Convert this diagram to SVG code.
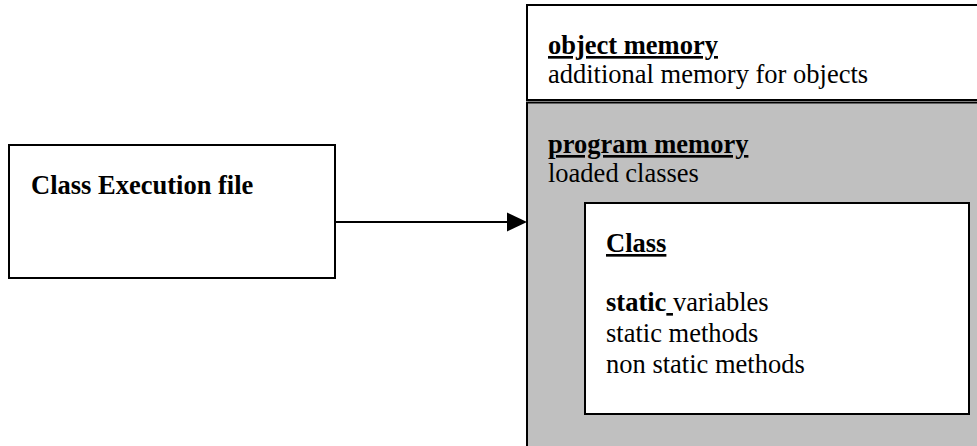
<svg xmlns="http://www.w3.org/2000/svg" width="977" height="446" viewBox="0 0 977 446">
<style>
text{font-family:"Liberation Serif","Times New Roman",serif;font-size:26.5px;fill:#000;white-space:pre}
.b{font-weight:bold}
.u{text-decoration:underline}
.box{stroke:#000;stroke-width:2}
.conn{stroke:#000;stroke-width:2;fill:none}
</style>
<rect width="977" height="446" fill="#fff"/>
<g id="program-memory">
<rect class="box" x="527" y="102.5" width="470" height="360" fill="#c0c0c0"/>
<text x="548" y="153"><tspan class="b u">program memory</tspan><tspan x="548" y="182">loaded classes</tspan></text>
</g>
<g id="object-memory">
<rect class="box" x="527" y="5" width="470" height="95" fill="#fff"/>
<text x="548" y="54"><tspan class="b u">object memory</tspan><tspan x="548" y="83">additional memory for objects</tspan></text>
</g>
<g id="class">
<rect class="box" x="585" y="203" width="384" height="211" fill="#fff"/>
<text x="606" y="252" class="b u">Class</text>
<text x="606" y="311"><tspan class="b">static</tspan><tspan class="u"> </tspan>variables<tspan x="606" y="342">static methods</tspan><tspan x="606" y="373">non static methods</tspan></text>
</g>
<g id="class-execution-file">
<rect class="box" x="9" y="145" width="326" height="133" fill="#fff"/>
<text x="31" y="194" class="b">Class Execution file</text>
</g>
<g id="connectors">
<line class="conn" x1="335" y1="222" x2="508" y2="222"/>
<polygon points="507,212.5 527,222 507,231.5" fill="#000"/>
</g>
</svg>
